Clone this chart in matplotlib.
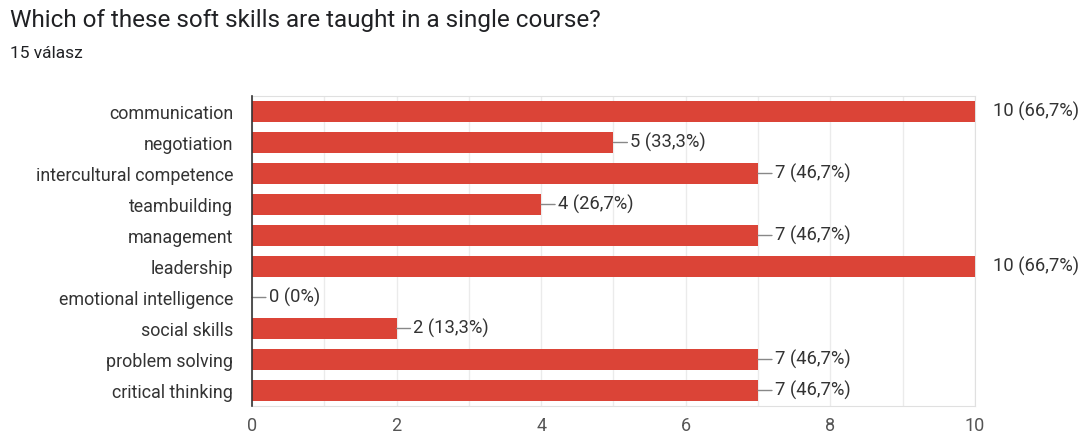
import numpy as np
import matplotlib
matplotlib.use('Agg')
import matplotlib.pyplot as plt

skills = ['communication', 'negotiation', 'intercultural competence', 'teambuilding',
          'management', 'leadership', 'emotional intelligence', 'social skills',
          'problem solving', 'critical thinking']
counts = [10, 5, 7, 4, 7, 10, 0, 2, 7, 7]
percents = ['66,7%', '33,3%', '46,7%', '26,7%', '46,7%', '66,7%', '0%', '13,3%', '46,7%', '46,7%']
xticks = [0, 2, 4, 6, 8, 10]

plt.rcParams['font.family'] = ['Roboto', 'DejaVu Sans']

bar_col = '#db4437'
text_col = '#333333'

fig = plt.figure(figsize=(10.89, 4.36), dpi=100)
ax = fig.add_axes([0.2314, 0.0688, 0.6639, 0.711])

y = np.arange(len(skills))
ax.barh(y, counts, height=0.65, color=bar_col, zorder=3)

# grid every 1 unit
for gx in range(0, 11):
    ax.axvline(gx, color='#ebebeb', lw=1, zorder=1)

ax.set_xlim(0, 10)
ax.set_ylim(9.5, -0.5)
ax.set_xticks(xticks)
ax.set_xticklabels([str(t) for t in xticks], fontsize=13, color='#555555')
ax.set_yticks(y)
ax.set_yticklabels(skills, fontsize=12.9, color=text_col)
ax.tick_params(length=0)
ax.tick_params(axis='y', pad=13.5)
ax.tick_params(axis='x', pad=8)

for s in ['top', 'right', 'bottom']:
    ax.spines[s].set_color('#e0e0e0')
ax.spines['left'].set_color('#333333')
ax.spines['left'].set_linewidth(1.2)
ax.spines['left'].set_zorder(4)

# value labels with leader lines
for yi, c, p in zip(y, counts, percents):
    lab = f'{c} ({p})'
    if c >= 10:
        ax.annotate(lab, xy=(c, yi), xytext=(13, 0), textcoords='offset points',
                    va='center', ha='left', fontsize=13.2, color=text_col,
                    annotation_clip=False)
    else:
        ax.annotate(lab, xy=(c, yi), xytext=(12, 0), textcoords='offset points',
                    va='center', ha='left', fontsize=13.2, color=text_col,
                    arrowprops=dict(arrowstyle='-', color='#888888', lw=1,
                                    shrinkA=0, shrinkB=0))

fig.text(0.0092, 0.952, 'Which of these soft skills are taught in a single course?',
         fontsize=17.5, color='#202124', va='center', ha='left')
fig.text(0.0092, 0.878, '15 válasz', fontsize=12.5, color='#202124', va='center', ha='left')

fig.savefig('out.png', dpi=100)
